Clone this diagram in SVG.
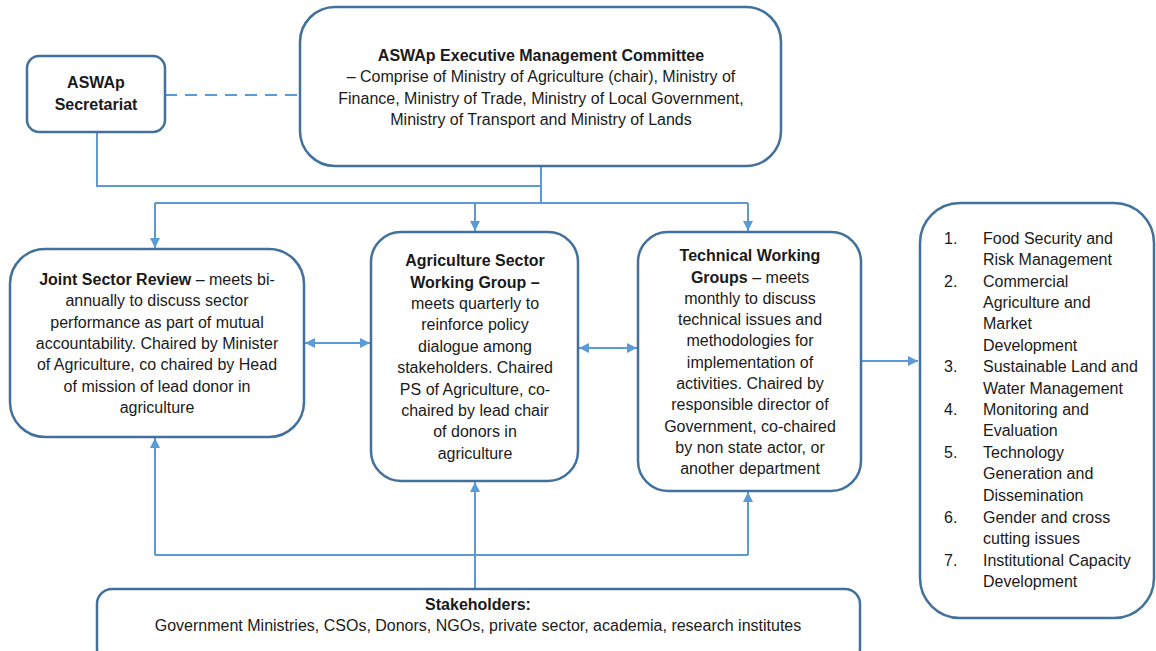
<svg xmlns="http://www.w3.org/2000/svg" width="1156" height="651" viewBox="0 0 1156 651">
<defs>
<style>
.box{fill:#fff;stroke:#41719C;stroke-width:2.5}
.ln{fill:none;stroke:#5B9BD5;stroke-width:2}
text{font-family:"Liberation Sans",Arial,sans-serif;font-size:16px;fill:#1a1a1a;text-anchor:middle}
.b{font-weight:bold}
.l{text-anchor:start}
</style>
<marker id="ah" viewBox="0 0 10 10" refX="10" refY="5" markerWidth="5" markerHeight="5" orient="auto-start-reverse" markerUnits="strokeWidth">
<path d="M0,0 L10,5 L0,10 z" fill="#5B9BD5"/>
</marker>
</defs>
<rect width="1156" height="651" fill="#fff"/>
<g id="connectors">
<line class="ln" x1="165" y1="95" x2="300" y2="95" stroke-dasharray="12,8"/>
<polyline class="ln" points="97,132 97,186 541,186"/>
<line class="ln" x1="541" y1="166" x2="541" y2="203"/>
<line class="ln" x1="155" y1="203" x2="748" y2="203"/>
<line class="ln" x1="155" y1="203" x2="155" y2="248" marker-end="url(#ah)"/>
<line class="ln" x1="475" y1="203" x2="475" y2="231" marker-end="url(#ah)"/>
<line class="ln" x1="748" y1="203" x2="748" y2="231" marker-end="url(#ah)"/>
<line class="ln" x1="305" y1="343" x2="370" y2="343" marker-start="url(#ah)" marker-end="url(#ah)"/>
<line class="ln" x1="579" y1="348" x2="637" y2="348" marker-start="url(#ah)" marker-end="url(#ah)"/>
<line class="ln" x1="862" y1="361" x2="918" y2="361" marker-end="url(#ah)"/>
<line class="ln" x1="475" y1="589" x2="475" y2="482" marker-end="url(#ah)"/>
<line class="ln" x1="155" y1="555" x2="748" y2="555"/>
<line class="ln" x1="155" y1="555" x2="155" y2="438" marker-end="url(#ah)"/>
<line class="ln" x1="748" y1="555" x2="748" y2="492" marker-end="url(#ah)"/>
</g>
<g id="secretariat">
<rect class="box" x="27" y="56" width="138" height="76" rx="12"/>
<text class="b" x="96" y="88">ASWAp</text>
<text class="b" x="96" y="110">Secretariat</text>
</g>
<g id="exec">
<rect class="box" x="300" y="7" width="481" height="159" rx="35"/>
<text class="b" x="541" y="61">ASWAp Executive Management Committee</text>
<text x="541" y="82">– Comprise of Ministry of Agriculture (chair), Ministry of</text>
<text x="541" y="104">Finance, Ministry of Trade,  Ministry of Local Government,</text>
<text x="541" y="125">Ministry of Transport and Ministry of Lands</text>
</g>
<g id="jsr">
<rect class="box" x="10" y="249" width="294" height="188" rx="35"/>
<text x="157" y="285"><tspan class="b">Joint Sector Review</tspan> – meets bi-</text>
<text x="157" y="306">annually to discuss sector</text>
<text x="157" y="328">performance as part of mutual</text>
<text x="157" y="349">accountability. Chaired by Minister</text>
<text x="157" y="370">of Agriculture, co chaired by Head</text>
<text x="157" y="392">of mission of lead donor in</text>
<text x="157" y="413">agriculture</text>
</g>
<g id="aswg">
<rect class="box" x="371" y="232" width="207" height="249" rx="30"/>
<text class="b" x="475" y="266">Agriculture Sector</text>
<text class="b" x="475" y="288">Working Group –</text>
<text x="475" y="309">meets quarterly to</text>
<text x="475" y="330">reinforce policy</text>
<text x="475" y="352">dialogue among</text>
<text x="475" y="373">stakeholders. Chaired</text>
<text x="475" y="395">PS of Agriculture, co-</text>
<text x="475" y="416">chaired by lead chair</text>
<text x="475" y="437">of donors in</text>
<text x="475" y="459">agriculture</text>
</g>
<g id="twg">
<rect class="box" x="638" y="232" width="223" height="259" rx="30"/>
<text class="b" x="750" y="261">Technical Working</text>
<text x="750" y="283"><tspan class="b">Groups</tspan> – meets</text>
<text x="750" y="304">monthly to discuss</text>
<text x="750" y="325">technical issues and</text>
<text x="750" y="346">methodologies for</text>
<text x="750" y="368">implementation of</text>
<text x="750" y="389">activities. Chaired by</text>
<text x="750" y="410">responsible director of</text>
<text x="750" y="432">Government, co-chaired</text>
<text x="750" y="453">by non state actor, or</text>
<text x="750" y="474">another department</text>
</g>
<g id="list">
<rect class="box" x="920" y="203" width="234" height="415" rx="40"/>
<text class="l" x="944" y="244">1.</text>
<text class="l" x="983" y="244">Food Security and</text>
<text class="l" x="983" y="265">Risk Management</text>
<text class="l" x="944" y="287">2.</text>
<text class="l" x="983" y="287">Commercial</text>
<text class="l" x="983" y="308">Agriculture and</text>
<text class="l" x="983" y="329">Market</text>
<text class="l" x="983" y="351">Development</text>
<text class="l" x="944" y="372">3.</text>
<text class="l" x="983" y="372">Sustainable Land and</text>
<text class="l" x="983" y="394">Water Management</text>
<text class="l" x="944" y="415">4.</text>
<text class="l" x="983" y="415">Monitoring and</text>
<text class="l" x="983" y="436">Evaluation</text>
<text class="l" x="944" y="458">5.</text>
<text class="l" x="983" y="458">Technology</text>
<text class="l" x="983" y="479">Generation and</text>
<text class="l" x="983" y="501">Dissemination</text>
<text class="l" x="944" y="523">6.</text>
<text class="l" x="983" y="523">Gender and cross</text>
<text class="l" x="983" y="544">cutting issues</text>
<text class="l" x="944" y="566">7.</text>
<text class="l" x="983" y="566">Institutional Capacity</text>
<text class="l" x="983" y="587">Development</text>
</g>
<g id="stakeholders">
<rect class="box" x="97" y="589" width="763" height="75" rx="15"/>
<text class="b" x="478" y="610">Stakeholders:</text>
<text x="478" y="631">Government Ministries, CSOs, Donors, NGOs, private sector, academia, research institutes</text>
</g>
</svg>
